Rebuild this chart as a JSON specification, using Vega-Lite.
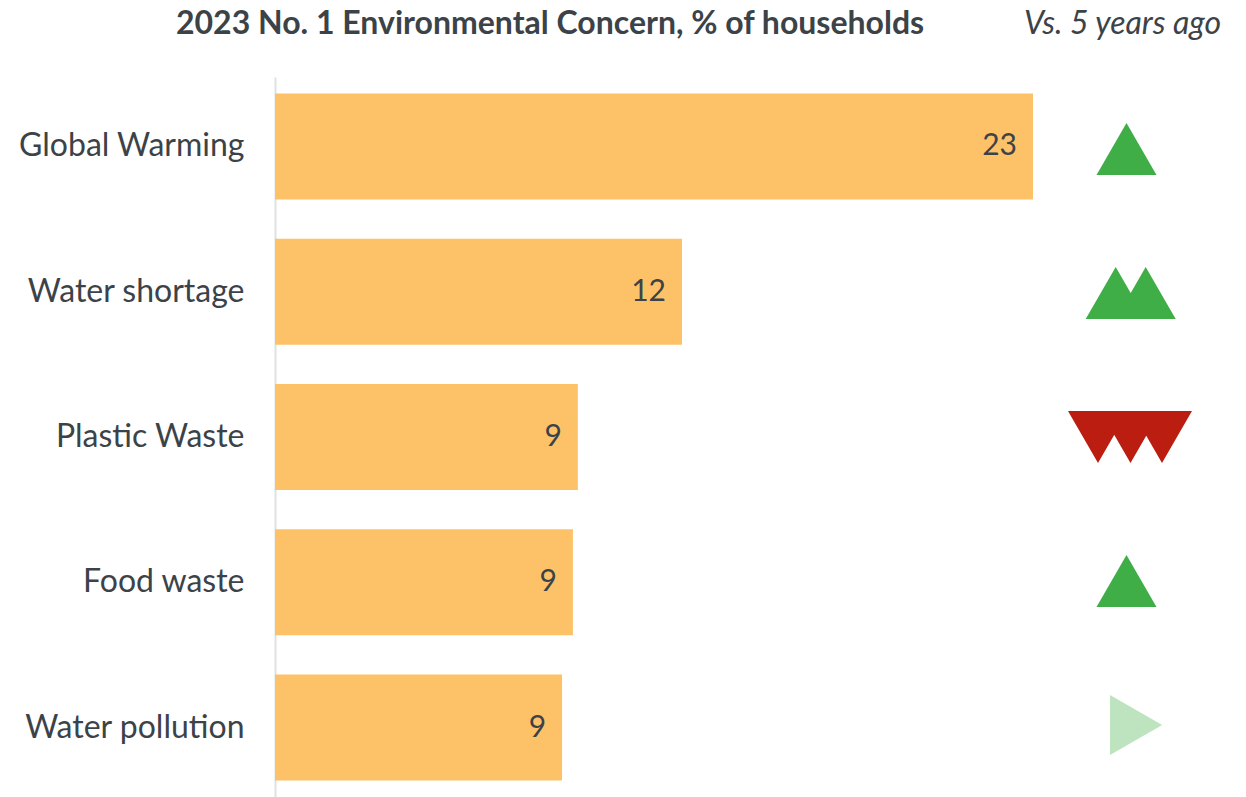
{
  "$schema": "https://vega.github.io/schema/vega-lite/v6.json",
  "padding": {"left": 5, "top": 8, "right": 0, "bottom": 0},
  "background": "white",
  "bounds": "flush",
  "config": {
    "font": "Lato",
    "view": {"stroke": null},
    "concat": {"spacing": 0}
  },
  "data": {
    "values": [
      {"concern": "Global Warming", "share": 23.0, "trend": "Higher"},
      {"concern": "Water shortage", "share": 12.35, "trend": "Much higher"},
      {"concern": "Plastic Waste", "share": 9.19, "trend": "Much lower"},
      {"concern": "Food waste", "share": 9.04, "trend": "Higher"},
      {"concern": "Water pollution", "share": 8.71, "trend": "Same"}
    ]
  },
  "hconcat": [
    {
      "width": 758,
      "height": 720,
      "title": {
        "text": "2023 No. 1 Environmental Concern, % of households",
        "anchor": "start",
        "frame": "group",
        "dx": -99,
        "font": "Lato",
        "fontSize": 32,
        "fontWeight": "bold",
        "color": "#3c4348",
        "offset": 36
      },
      "encoding": {
        "y": {
          "field": "concern",
          "type": "nominal",
          "sort": null,
          "scale": {"paddingInner": 0.27, "paddingOuter": 0.113},
          "axis": {
            "title": null,
            "ticks": false,
            "domain": true,
            "domainColor": "#dde1e6",
            "domainWidth": 2,
            "labelFont": "Lato",
            "labelFontSize": 32,
            "labelColor": "#3c4348",
            "labelPadding": 31,
            "minExtent": 270,
            "maxExtent": 270,
            "labelLimit": 300
          }
        },
        "x": {
          "field": "share",
          "type": "quantitative",
          "scale": {"domain": [0, 23], "nice": false},
          "axis": null
        }
      },
      "layer": [
        {"mark": {"type": "bar", "color": "#fdc268"}},
        {
          "mark": {
            "type": "text",
            "align": "right",
            "baseline": "middle",
            "dx": -16,
            "font": "Lato",
            "fontSize": 30,
            "color": "#3c4348"
          },
          "encoding": {"text": {"field": "share", "type": "quantitative", "format": ".0f"}}
        }
      ]
    },
    {
      "width": 187,
      "height": 720,
      "title": {
        "text": "Vs. 5 years ago",
        "anchor": "middle",
        "dx": -4,
        "font": "Lato",
        "fontSize": 32,
        "fontStyle": "italic",
        "fontWeight": "normal",
        "color": "#3c4348",
        "offset": 36
      },
      "mark": {"type": "point", "filled": true, "opacity": 1, "size": 3600},
      "encoding": {
        "y": {
          "field": "concern",
          "type": "nominal",
          "sort": null,
          "scale": {"paddingInner": 0.27, "paddingOuter": 0.113},
          "axis": null
        },
        "shape": {
          "field": "trend",
          "type": "nominal",
          "scale": {
            "domain": ["Higher", "Much higher", "Much lower", "Same"],
            "range": [
              "M0,-0.866L1,0.866L-1,0.866Z",
              "M-1.36,0.866L-0.36,-0.866L0.64,0.866ZM-0.36,0.866L0.64,-0.866L1.64,0.866Z",
              "M-1.95,-0.866L0.05,-0.866L-0.95,0.866ZM-0.867,-0.866L1.133,-0.866L0.133,0.866ZM0.183,-0.866L2.183,-0.866L1.183,0.866Z",
              "M-0.55,-1L1.19,0L-0.55,1Z"
            ]
          },
          "legend": null
        },
        "color": {
          "field": "trend",
          "type": "nominal",
          "scale": {
            "domain": ["Higher", "Much higher", "Much lower", "Same"],
            "range": ["#3fae46", "#3fae46", "#bb1d10", "#bde4bf"]
          },
          "legend": null
        }
      }
    }
  ]
}
